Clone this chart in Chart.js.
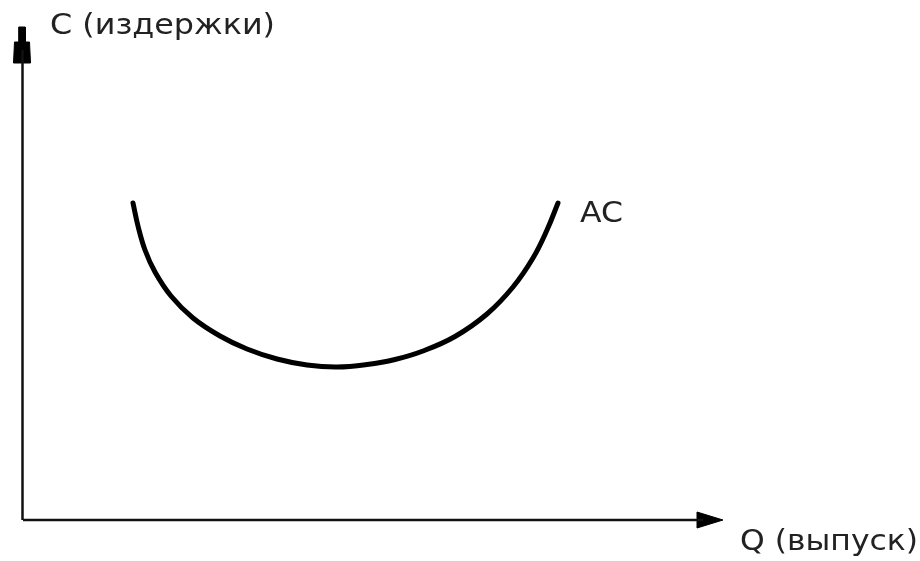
<!DOCTYPE html>
<html>
<head>
<meta charset="utf-8">
<script src="https://cdn.jsdelivr.net/npm/chart.js@4.4.1/dist/chart.umd.min.js"></script>
<style>
  html, body { margin: 0; padding: 0; background: #ffffff; }
  #wrap { width: 920px; height: 561px; position: relative; }
</style>
</head>
<body>
<div id="wrap"><canvas id="c" width="920" height="561"></canvas></div>
<script>
// ---- Data (Q = output, C = cost) ----
const acQ = [110, 115, 122, 132, 148, 170, 197, 224, 254, 284, 314, 344, 372, 400, 432, 464, 490, 510, 524, 535];
const acC = [317, 294, 270, 248, 224, 202, 184, 171, 161, 155, 153, 155.5, 160.5, 169, 183.5, 206, 233, 262, 290, 317];

const axisTitleY = "C (издержки)";
const axisTitleX = "Q (выпуск)";
const curveLabel = "AC";

// axis extents
const qAxisEnd = 680;
const cAxisEnd = 470;

// ---- build datasets ----
const acPoints = acQ.map((q, i) => ({ x: q, y: acC[i] }));

const xAxisLine = [{ x: 0, y: 0 }, { x: qAxisEnd, y: 0 }];
const yAxisLine = [{ x: -0.5, y: 0 }, { x: -0.5, y: cAxisEnd }];
const xArrow = [{ x: 674, y: 8 }, { x: 700, y: 0 }, { x: 674, y: -8 }, { x: 674, y: 8 }];
const yArrow = [
  { x: -4.3, y: 493 }, { x: 2.3, y: 493 }, { x: 2.3, y: 478 }, { x: 6.5, y: 478 },
  { x: 7.5, y: 457 }, { x: -9.5, y: 457 }, { x: -8.5, y: 478 }, { x: -4.3, y: 478 }, { x: -4.3, y: 493 }
];

const textLabels = [
  { text: axisTitleY, x: 27, y: 494, width: 225 },
  { text: axisTitleX, x: 717, y: -22, width: 178 },
  { text: curveLabel, x: 557, y: 306, width: 43 }
];

const labelPlugin = {
  id: 'labels',
  afterDatasetsDraw(chart) {
    const ctx = chart.ctx;
    const xs = chart.scales.x, ys = chart.scales.y;
    textLabels.forEach(l => {
      ctx.save();
      ctx.fillStyle = '#222222';
      ctx.textBaseline = 'middle';
      ctx.textAlign = 'left';
      ctx.font = '29px "DejaVu Sans", sans-serif';
      const w = ctx.measureText(l.text).width;
      const px = xs.getPixelForValue(l.x), py = ys.getPixelForValue(l.y);
      ctx.translate(px, py);
      ctx.scale(l.width / w, 1);
      ctx.fillText(l.text, 0, 0);
      ctx.restore();
    });
  }
};

new Chart(document.getElementById('c'), {
  type: 'scatter',
  data: {
    datasets: [
      { data: xAxisLine, showLine: true, borderColor: '#111', borderWidth: 2.5, pointRadius: 0 },
      { data: yAxisLine, showLine: true, borderColor: '#111', borderWidth: 2.5, pointRadius: 0 },
      { data: xArrow, showLine: true, borderColor: '#000', backgroundColor: '#000', borderWidth: 1, pointRadius: 0, fill: 'shape' },
      { data: yArrow, showLine: true, borderColor: '#000', backgroundColor: '#000', borderWidth: 1, pointRadius: 0, fill: 'shape' },
      { data: acPoints, showLine: true, borderColor: '#000', borderWidth: 5, pointRadius: 0, tension: 0.4, borderCapStyle: 'round' }
    ]
  },
  options: {
    responsive: false,
    animation: false,
    layout: { padding: 0 },
    plugins: { legend: { display: false }, tooltip: { enabled: false } },
    scales: {
      x: { type: 'linear', display: false, min: -23, max: 897 },
      y: { type: 'linear', display: false, min: -41, max: 520 }
    }
  },
  plugins: [labelPlugin]
});
</script>
</body>
</html>
